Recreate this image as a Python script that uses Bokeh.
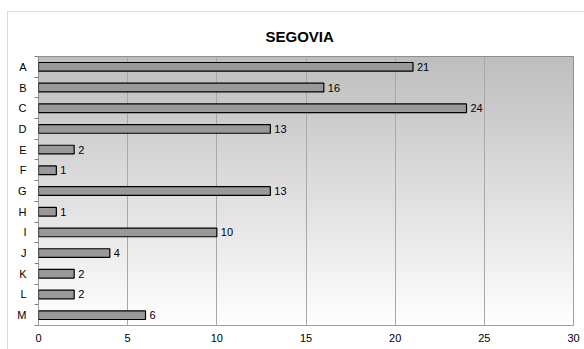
import numpy as np
from bokeh.plotting import figure
from bokeh.models import Range1d, FixedTicker, ColumnDataSource
from bokeh.core.properties import value
from bokeh.embed import file_html
from bokeh.resources import INLINE

title = "SEGOVIA"
categories = ["A", "B", "C", "D", "E", "F", "G", "H", "I", "J", "K", "L", "M"]
values = [21, 16, 24, 13, 2, 1, 13, 1, 10, 4, 2, 2, 6]
x_ticks = [0, 5, 10, 15, 20, 25, 30]

n = len(categories)
centers = [i + 0.5 for i in range(n)]
bounds = list(range(n + 1))

p = figure(width=577, height=338, output_backend="svg", toolbar_location=None,
           x_range=Range1d(0, 30), y_range=Range1d(n, 0),
           min_border_left=30, min_border_right=12, min_border_top=44, min_border_bottom=25,
           margin=(11, 0, 0, 7),
           styles={"border-top": "1px solid #d9d9d9", "border-left": "1px solid #d9d9d9",
                   "box-sizing": "border-box"})
p.background_fill_color = "white"
p.border_fill_color = "white"
p.outline_line_color = "#808080"
p.outline_line_width = 1

p.title.text = title
p.title.align = "left"
p.title.vertical_align = "top"
p.title.offset = 227
p.title.text_font = "Liberation Sans"
p.title.text_font_style = "bold"
p.title.text_font_size = "15px"
p.title.text_color = "black"
p.title.standoff = 20

# vertical gradient background (dark gray at top to white at bottom)
rows = 200
g = np.linspace(190, 255, rows).astype(np.uint32)
img = np.zeros((rows, 1), dtype=np.uint32)
img[:, 0] = (255 << 24) | (g << 16) | (g << 8) | g
p.image_rgba(image=[img], x=0, y=0, dw=30, dh=n, level="image")

src = ColumnDataSource(dict(y=centers, v=values, t=[str(v) for v in values], c=categories))
p.hbar(y="y", right="v", left=0, height=0.42, source=src,
       fill_color="#999999", line_color="black", line_width=1.2)
p.text(x="v", y="y", text="t", source=src, x_offset=4, text_baseline="middle",
       text_align="left", text_font=value("Liberation Sans"), text_font_size="11px",
       text_color="black")

p.xaxis.ticker = FixedTicker(ticks=x_ticks)
p.xaxis.axis_line_color = None
p.xaxis.major_tick_line_color = None
p.xaxis.minor_tick_line_color = None
p.xaxis.major_tick_out = 0
p.xaxis.major_label_standoff = 8
p.xaxis.major_label_text_font = "Liberation Sans"
p.xaxis.major_label_text_font_size = "11px"
p.xaxis.major_label_text_color = "black"

p.yaxis.ticker = FixedTicker(ticks=centers, minor_ticks=bounds)
p.yaxis.major_label_overrides = {c: lab for c, lab in zip(centers, categories)}
p.yaxis.axis_line_color = None
p.yaxis.major_tick_line_color = None
p.yaxis.major_tick_out = 0
p.yaxis.major_tick_in = 0
p.yaxis.minor_tick_line_color = "#808080"
p.yaxis.minor_tick_out = 4
p.yaxis.minor_tick_in = 0
p.yaxis.major_label_standoff = 8
p.yaxis.major_label_text_font = "Liberation Sans"
p.yaxis.major_label_text_font_size = "11px"
p.yaxis.major_label_text_color = "black"

p.xgrid.ticker = FixedTicker(ticks=x_ticks[1:-1])
p.xgrid.grid_line_color = "#a8a8a8"
p.xgrid.grid_line_width = 1
p.ygrid.grid_line_color = None

open("out.html", "w").write(file_html(p, INLINE))
